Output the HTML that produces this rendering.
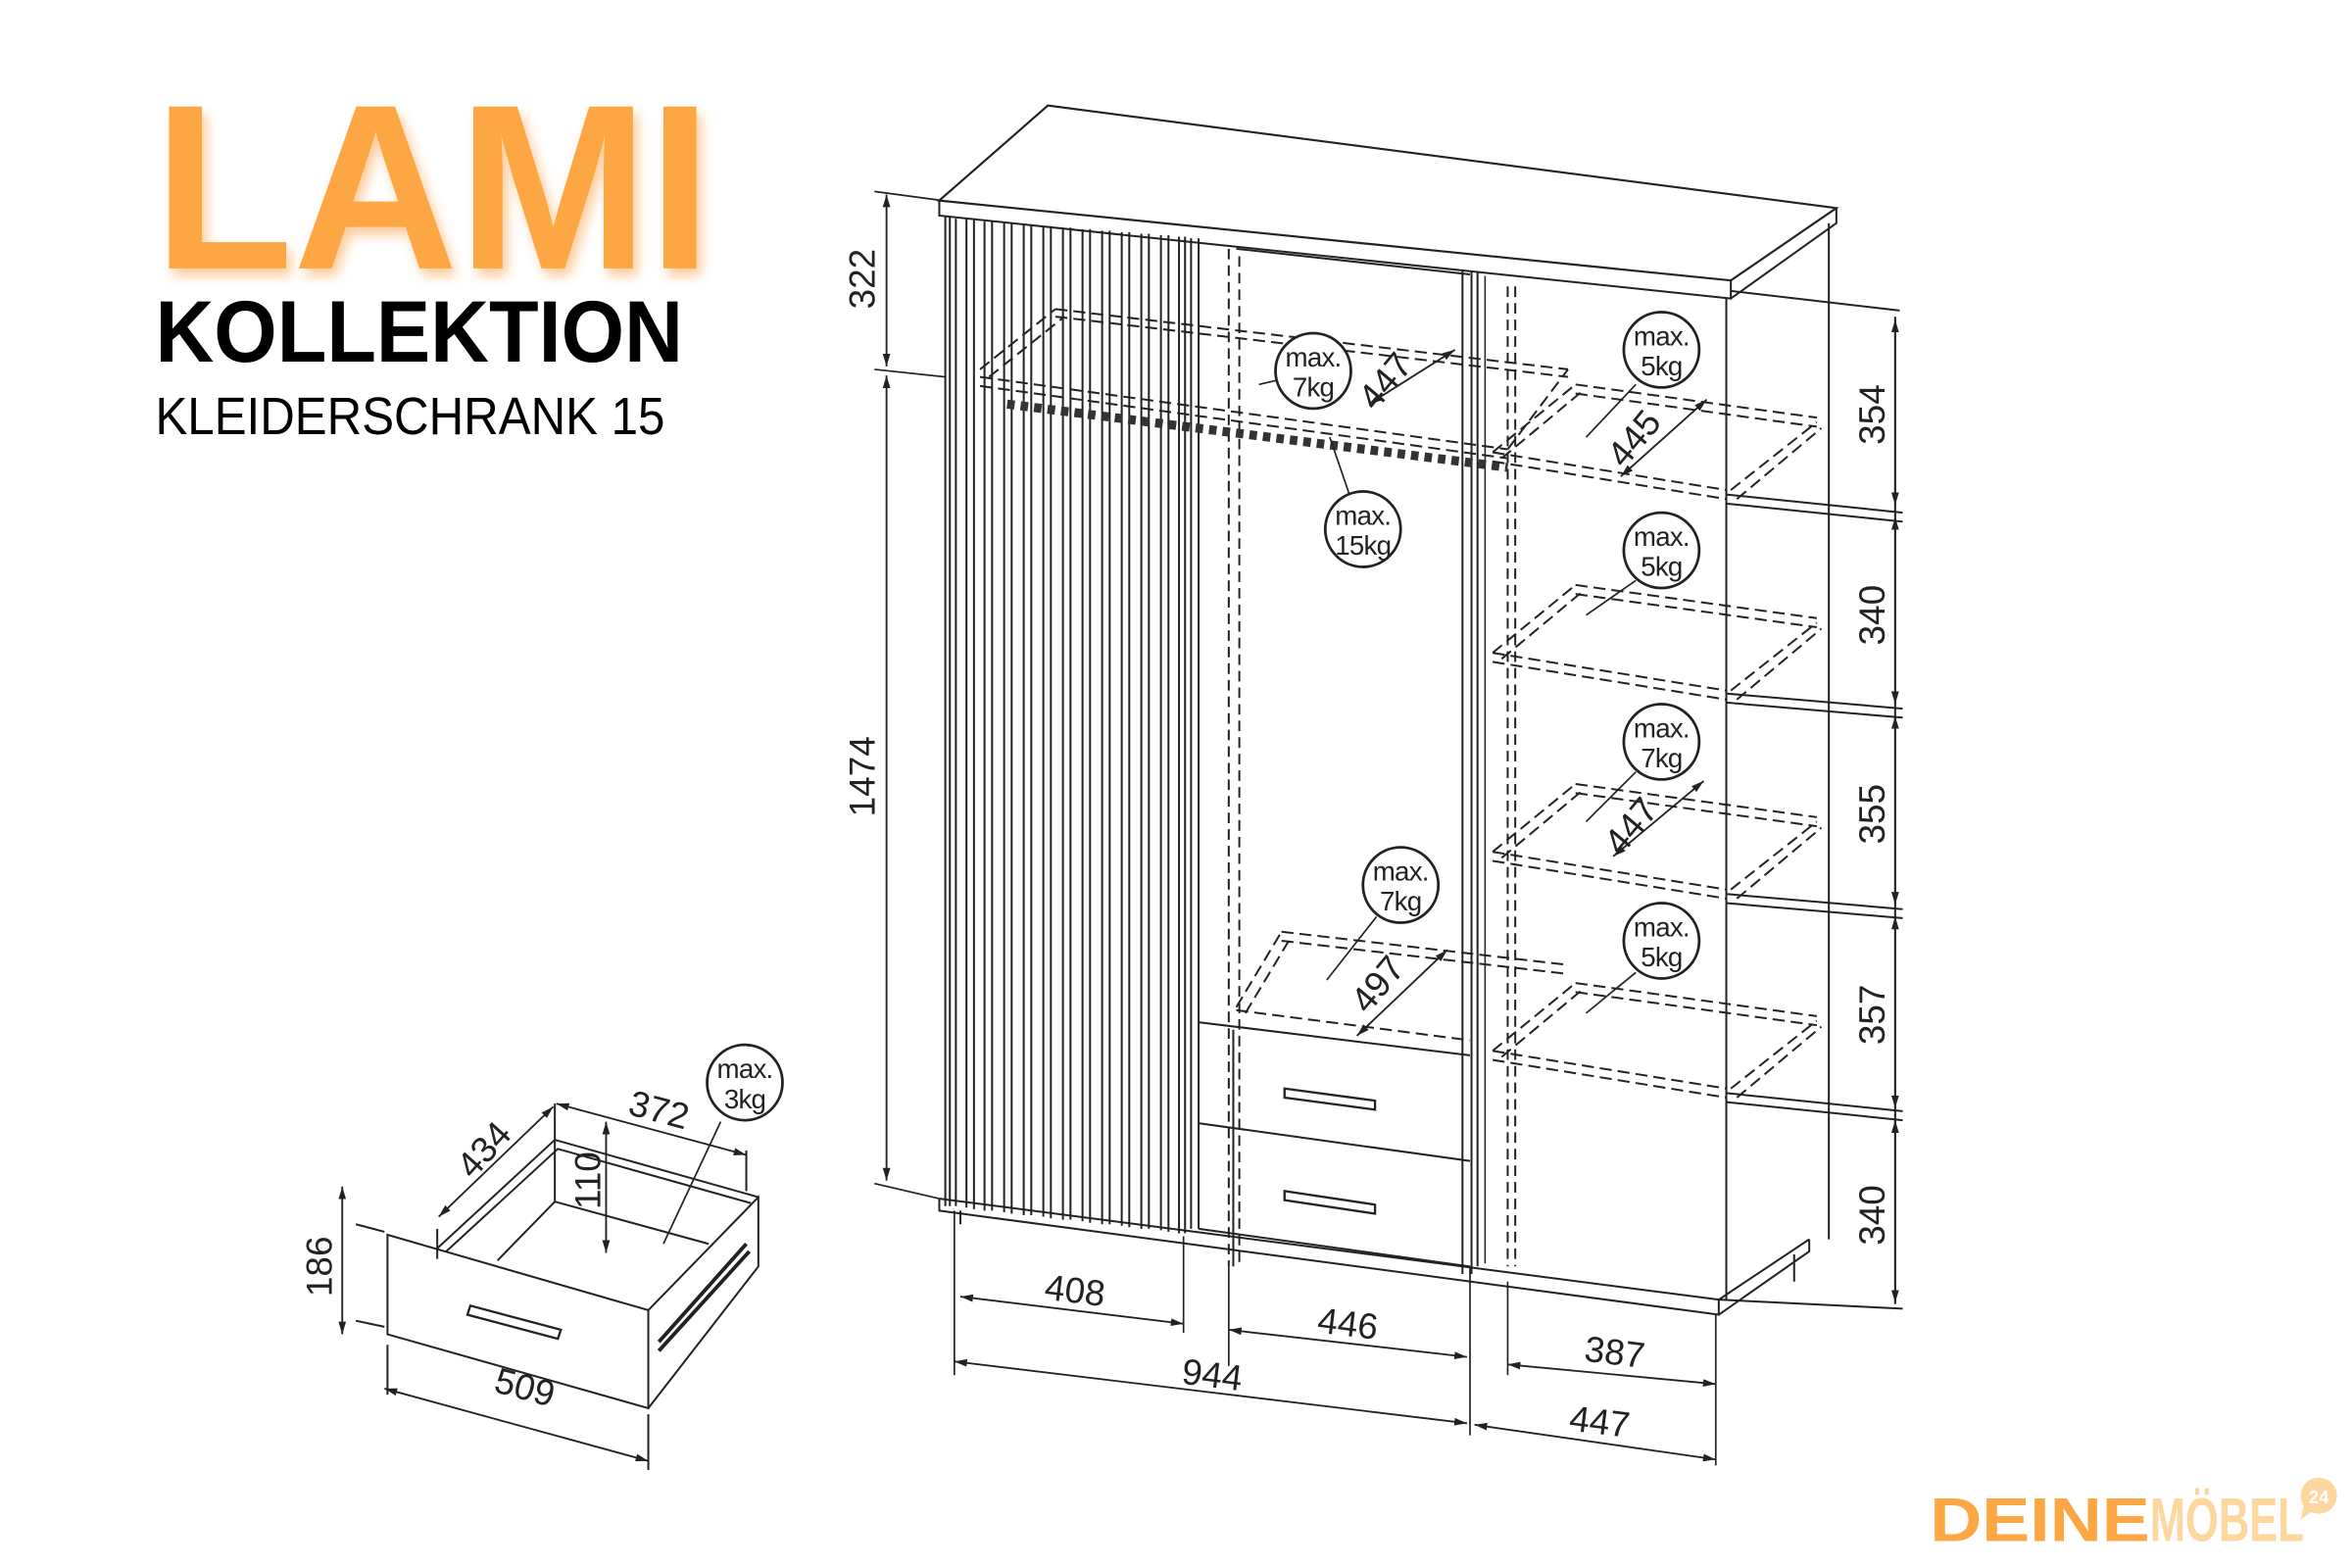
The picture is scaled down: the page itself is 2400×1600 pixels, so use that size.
<!DOCTYPE html>
<html><head><meta charset="utf-8"><style>
html,body{margin:0;padding:0;background:#fff;}
svg{display:block}
</style></head><body>
<svg width="2400" height="1600" viewBox="0 0 1560 1040" preserveAspectRatio="none" xmlns="http://www.w3.org/2000/svg" font-family="Liberation Sans, sans-serif">
<rect width="1560" height="1040" fill="#fff"/>
<defs>
<filter id="glow" x="-10%" y="-10%" width="130%" height="140%"><feGaussianBlur stdDeviation="4"/></filter>
<marker id="ar" viewBox="0 0 10 10" refX="10" refY="5" markerWidth="7" markerHeight="7" orient="auto-start-reverse"><path d="M0,2 L10,5 L0,8 z" fill="#222"/></marker>
</defs>
<!-- Titles -->
<text x="102" y="178" font-size="156" font-weight="bold" fill="#fbb46a" textLength="370" lengthAdjust="spacingAndGlyphs" filter="url(#glow)" opacity="0.7" transform="translate(3,5)">LAMI</text>
<text x="102" y="178" font-size="156" font-weight="bold" fill="#fca744" textLength="370" lengthAdjust="spacingAndGlyphs">LAMI</text>
<text x="103" y="240" font-size="58" font-weight="bold" fill="#000" textLength="350" lengthAdjust="spacingAndGlyphs">KOLLEKTION</text>
<text x="103" y="288" font-size="35" fill="#000" textLength="338" lengthAdjust="spacingAndGlyphs">KLEIDERSCHRANK 15</text>
<!-- Logo -->
<text x="1280" y="1022" font-size="41" font-weight="bold" fill="#fca744" textLength="146" lengthAdjust="spacingAndGlyphs">DEINE</text>
<text x="1426" y="1022" font-size="41" font-weight="bold" fill="#fdd79e" textLength="102" lengthAdjust="spacingAndGlyphs">MÖBEL</text>
<circle cx="1538" cy="992" r="12" fill="#fdd79e"/>
<path d="M1528,998 L1526,1008 L1534,1002 z" fill="#fdd79e"/>
<text x="1538" y="997" font-size="12" font-weight="bold" fill="#fff" text-anchor="middle">24</text>

<g stroke="#222" stroke-width="1.3" fill="none">
<!-- top slab -->
<path d="M623,133 L695,70 L1218,138 L1148,186 Z" stroke-width="1.4"/>
<path d="M623,133 L623,143 L1148,198 L1148,186 M1148,198 L1218,148 L1218,138"/>
<!-- body -->
<path d="M627,143 L627,800 M1145,198 L1145,862 M1213,148 L1213,822"/>
<path d="M623,795 L623,803 L1140,872 L1140,862 L623,795"/>
<path d="M1140,872 L1200,830 L1200,822 M1140,862 L1200,822 M1190,832 L1190,850"/>
<path d="M637,803 L637,812"/>
<!-- slats -->
<g stroke-width="1.3">
<path d="M630,144 V800 M634,145 V800 M641,145 V801 M646,146 V802 M653,147 V803 M658,147 V803 M666,148 V804 M671,148 V805 M679,149 V806 M684,149 V806 M692,150 V807 M697,150 V808 M705,151 V809 M710,151 V809 M718,152 V810 M723,152 V811 M731,153 V812 M736,153 V812 M744,154 V813 M749,154 V814 M757,155 V815 M762,155 V815 M770,156 V816 M775,156 V817 M782,157 V818 M786,157 V818"/>
</g>
<!-- middle section -->
<path d="M790,158 L790,815 M795,158 L795,815 M820,165 L975,182"/>
<path d="M815,165 V840 M822,170 V840" stroke-dasharray="7 4"/>
<path d="M970,180 V845 M976,180 V845 M980,180 V840" />
<path d="M985,183 V838" stroke-width="1"/>
<path d="M1000,190 V840 M1005,190 V840" stroke-dasharray="7 4"/>
<!-- drawers -->
<path d="M795,678 L975,700 M795,745 L975,770 M795,815 L975,840 M818,683 L818,840"/>
<path d="M852,722 L912,730 L912,736 L852,728 Z M852,790 L912,799 L912,805 L852,796 Z" stroke-width="1.5"/>
<!-- hanging rail -->
<path d="M668,268 L1000,310" stroke-width="6" stroke-dasharray="5 4" stroke="#333"/>
<!-- top shelf dashed left/middle -->
<g stroke-dasharray="8 4">
<path d="M700,205 L1040,245 M700,210 L1040,250"/>
<path d="M650,245 L700,205 M656,250 L706,210"/>
<path d="M650,250 L1000,298 M650,256 L1000,304"/>
<path d="M1000,298 L1040,245"/>
<!-- middle lower shelf -->
<path d="M850,618 L1040,640 M850,624 L1040,646"/>
<path d="M820,668 L850,618 M826,672 L856,622"/>
<path d="M820,670 L975,690"/>
<!-- right shelves -->
<path d="M990,300 L1145,325 M990,306 L1145,331"/>
<path d="M1045,255 L1205,277 M1045,261 L1205,283"/>
<path d="M1148,325 L1205,280 M1152,331 L1208,284"/>
<path d="M990,300 L1045,255 M996,304 L1050,259"/>
<path d="M990,433 L1145,458 M990,439 L1145,464"/>
<path d="M1045,388 L1205,410 M1045,394 L1205,416"/>
<path d="M1148,458 L1205,413 M1152,464 L1208,417"/>
<path d="M990,433 L1045,388 M996,437 L1050,392"/>
<path d="M990,565 L1145,590 M990,571 L1145,596"/>
<path d="M1045,520 L1205,542 M1045,526 L1205,548"/>
<path d="M1148,590 L1205,545 M1152,596 L1208,549"/>
<path d="M990,565 L1045,520 M996,569 L1050,524"/>
<path d="M990,697 L1145,722 M990,703 L1145,728"/>
<path d="M1045,652 L1205,674 M1045,658 L1205,680"/>
<path d="M1148,722 L1205,677 M1152,728 L1208,681"/>
<path d="M990,697 L1045,652 M996,701 L1050,656"/>
</g>
<!-- right extension lines -->
<path d="M1148,193 L1260,206 M1145,328 L1262,340 M1145,334 L1262,346 M1145,460 L1262,470 M1145,466 L1262,476 M1145,593 L1262,603 M1145,599 L1262,609 M1145,725 L1262,737 M1145,731 L1262,743 M1140,862 L1262,868"/>
<path d="M1257,210 V865"/>
</g>
<g stroke="#222" stroke-width="1.2" marker-start="url(#ar)" marker-end="url(#ar)" fill="none">
<path d="M1257,212 V335"/><path d="M1257,343 V467"/><path d="M1257,475 V600"/><path d="M1257,608 V735"/><path d="M1257,743 V864"/>
<path d="M588,129 V243"/><path d="M588,249 V783"/>
<path d="M637,860 L785,878"/><path d="M815,882 L973,900"/><path d="M633,903 L973,944"/><path d="M1000,905 L1138,918"/><path d="M978,945 L1138,968"/>
<path d="M908,268 L965,232"/><path d="M1075,316 L1132,265"/><path d="M1070,568 L1130,518"/><path d="M900,687 L960,630"/>
<path d="M291,807 L367,734"/><path d="M369,732 L495,766"/><path d="M402,744 V831"/><path d="M227,787 V885"/><path d="M255,921 L430,969"/>
</g>
<g stroke="#222" stroke-width="1.1" fill="none">
<path d="M580,127 L625,133 M580,245 L627,250 M580,785 L623,795"/>
<path d="M633,803 V912 M785,820 V884 M815,840 V906 M975,840 V952 M1000,850 V912 M1138,872 V972"/>
<path d="M835,255 L848,252 M1052,290 L1085,255 M1052,408 L1085,385 M1052,545 L1085,512 M1052,672 L1085,645 M882,290 L895,328 M880,650 L913,608 M440,825 L478,744"/>
</g>
<!-- circles -->
<g fill="#fff" stroke="#222" stroke-width="1.8">
<circle cx="871" cy="246" r="25"/><circle cx="1102" cy="232" r="25"/><circle cx="904" cy="351" r="25"/><circle cx="1102" cy="365" r="25"/><circle cx="1102" cy="492" r="25"/><circle cx="929" cy="587" r="25"/><circle cx="1102" cy="624" r="25"/><circle cx="494" cy="718" r="25"/>
</g>
<g font-size="18" fill="#222" text-anchor="middle" letter-spacing="-0.5">
<text x="871" y="243">max.</text><text x="871" y="263">7kg</text>
<text x="1102" y="229">max.</text><text x="1102" y="249">5kg</text>
<text x="904" y="348">max.</text><text x="904" y="368">15kg</text>
<text x="1102" y="362">max.</text><text x="1102" y="382">5kg</text>
<text x="1102" y="489">max.</text><text x="1102" y="509">7kg</text>
<text x="929" y="584">max.</text><text x="929" y="604">7kg</text>
<text x="1102" y="621">max.</text><text x="1102" y="641">5kg</text>
<text x="494" y="715">max.</text><text x="494" y="735">3kg</text>
</g>
<!-- dimension labels -->
<g font-size="24" fill="#222" text-anchor="middle">
<text transform="translate(580,185) rotate(-90)">322</text>
<text transform="translate(580,515) rotate(-90)">1474</text>
<text transform="translate(1250,275) rotate(-90)">354</text>
<text transform="translate(1250,408) rotate(-90)">340</text>
<text transform="translate(1250,540) rotate(-90)">355</text>
<text transform="translate(1250,673) rotate(-90)">357</text>
<text transform="translate(1250,806) rotate(-90)">340</text>
<text transform="translate(712,864) rotate(7)">408</text>
<text transform="translate(893,886) rotate(7)">446</text>
<text transform="translate(803,920) rotate(7)">944</text>
<text transform="translate(1070,905) rotate(7)">387</text>
<text transform="translate(1060,951) rotate(7)">447</text>
<text transform="translate(925,258) rotate(-50)">447</text>
<text transform="translate(1090,296) rotate(-50)">445</text>
<text transform="translate(1088,553) rotate(-50)">447</text>
<text transform="translate(920,658) rotate(-50)">497</text>
<text transform="translate(327,768) rotate(-48)">434</text>
<text transform="translate(435,744) rotate(15)">372</text>
<text transform="translate(398,783) rotate(-90)">110</text>
<text transform="translate(220,840) rotate(-90)">186</text>
<text transform="translate(346,928) rotate(15)">509</text>
</g>
<!-- small drawer -->
<g stroke="#222" stroke-width="1.3" fill="none">
<path d="M257,819 L430,869 L430,934 L257,885 Z"/>
<path d="M430,869 L503,794 L503,840 L430,934"/>
<path d="M290,828 L368,756 L503,794 M296,830 L370,762 L498,798"/>
<path d="M368,756 V797 L470,825 M368,797 L330,836"/>
<path d="M312,866 L372,882 L370,888 L310,872 Z" stroke-width="1.5"/>
<path d="M437,890 L495,825 M437,896 L497,830" stroke-width="2.5"/>
<path d="M236,812 L255,817 M236,876 L255,880 M257,892 V925 M430,938 V975 M368,732 V756 M495,763 V790 M290,815 V835"/>
</g>
</svg>
</body></html>
